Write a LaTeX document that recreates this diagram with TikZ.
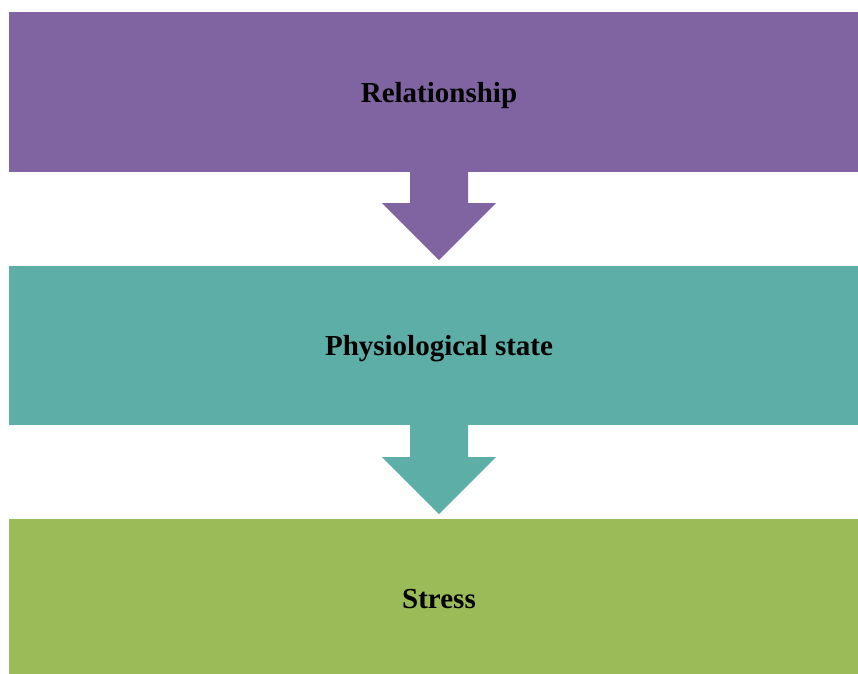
\documentclass[tikz,border=0pt]{standalone}
\usepackage{fontspec}
\setmainfont{Liberation Serif}
\definecolor{cpurple}{HTML}{8064A2}
\definecolor{cteal}{HTML}{5DAEA6}
\definecolor{cgreen}{HTML}{9BBB59}
\begin{document}
\begin{tikzpicture}[x=1pt,y=-1pt,
  lbl/.style={font=\bfseries\fontsize{29}{33}\selectfont, text=black, inner sep=0pt, anchor=base},
  blockarrow/.style={fill=#1, draw=none}]
\useasboundingbox (0,0) rectangle (858,673);
\begin{scope}
\clip (0,0) rectangle (858,673);
\fill[cpurple] (9,12) rectangle (870,172);
\fill[cteal] (9,266) rectangle (870,425);
\fill[cgreen] (9,519) rectangle (870,680);
\fill[blockarrow=cpurple] (410,171) -- (468,171) -- (468,203) -- (496,203) -- (439,260) -- (382,203) -- (410,203) -- cycle;
\fill[blockarrow=cteal] (410,424) -- (468,424) -- (468,457) -- (496,457) -- (439,514) -- (382,457) -- (410,457) -- cycle;
\end{scope}
\node[lbl] (rel) at (439,102) {Relationship};
\node[lbl] (phys) at (439,355) {Physiological state};
\node[lbl] (stress) at (439,608) {Stress};
\end{tikzpicture}
\end{document}
